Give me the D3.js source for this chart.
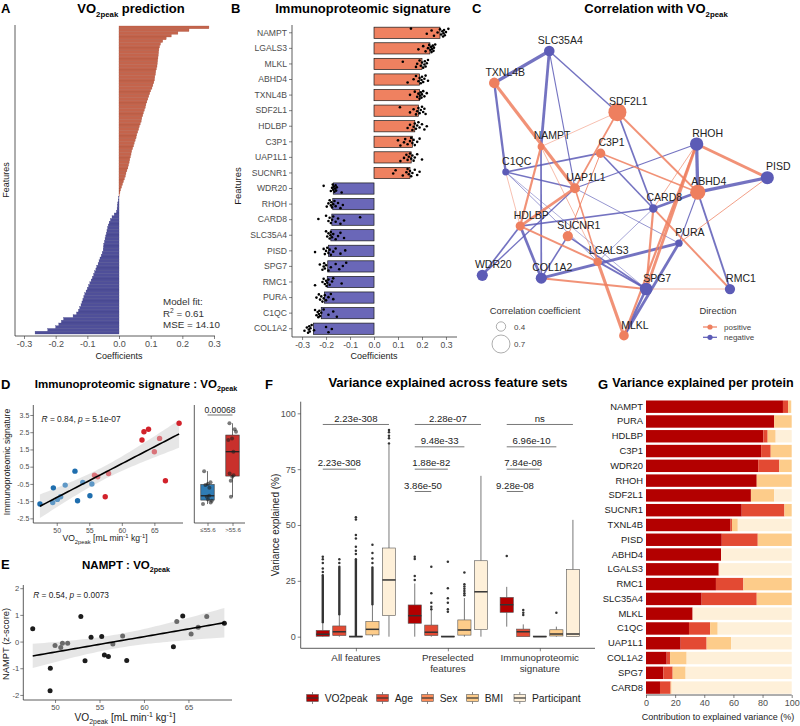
<!DOCTYPE html>
<html>
<head>
<meta charset="utf-8">
<script src="https://cdn.jsdelivr.net/npm/d3@7/dist/d3.min.js"></script>
<style>
  body { margin: 0; background: #fff; }
</style>
</head>
<body>
<svg id="fig" width="800" height="726"></svg>
<script>
'use strict';

var FONT = '"Liberation Sans", Arial, Helvetica, sans-serif';

// ---------- A: model coefficients, sorted (positive block, then negative block)
var aPos = [0.284,0.221,0.186,0.165,0.149,0.138,0.131,0.128,0.126,0.125,0.124,0.123,0.122,0.121,0.12,0.118,
  0.116,0.115,0.113,0.112,0.11,0.107,0.104,0.1,0.097,0.094,0.091,0.088,0.085,0.083,0.08,0.077,0.075,0.072,
  0.07,0.067,0.064,0.062,0.059,0.056,0.054,0.051,0.048,0.046,0.043,0.04,0.038,0.036,0.034,0.032,0.03,0.028,
  0.025,0.022,0.02,0.017,0.014,0.011,0.008,0.005,0.003,0.001];
var aNeg = [-0.001,-0.002,-0.004,-0.005,-0.006,-0.008,-0.015,-0.022,-0.027,-0.031,-0.034,-0.036,-0.038,-0.04,
  -0.042,-0.044,-0.046,-0.048,-0.049,-0.05,-0.053,-0.056,-0.06,-0.063,-0.066,-0.07,-0.073,-0.077,-0.08,-0.084,
  -0.088,-0.092,-0.096,-0.1,-0.104,-0.108,-0.111,-0.114,-0.117,-0.12,-0.124,-0.128,-0.134,-0.145,-0.175,-0.182,
  -0.19,-0.2,-0.225,-0.265];

// ---------- B: signature coefficients and bootstrap estimates
var bProteins = ['NAMPT','LGALS3','MLKL','ABHD4','TXNL4B','SDF2L1','HDLBP','C3P1','UAP1L1','SUCNR1',
  'WDR20','RHOH','CARD8','SLC35A4','PISD','SPG7','RMC1','PURA','C1QC','COL1A2'];
var bCoef = [0.275,0.233,0.2,0.19,0.19,0.185,0.17,0.16,0.155,0.15,
  -0.17,-0.172,-0.176,-0.18,-0.19,-0.193,-0.195,-0.207,-0.22,-0.253];
var bBoot = [
  [0.154,0.22,0.24,0.25,0.265,0.275,0.28,0.285,0.288,0.29,0.292,0.295,0.3,0.31],
  [0.185,0.205,0.215,0.225,0.23,0.235,0.238,0.24,0.242,0.245,0.248,0.25,0.255],
  [0.12,0.175,0.18,0.19,0.195,0.2,0.205,0.21,0.212,0.215,0.22,0.225],
  [0.14,0.165,0.175,0.185,0.19,0.195,0.198,0.2,0.205,0.21,0.215,0.225],
  [0.15,0.17,0.18,0.185,0.19,0.192,0.195,0.198,0.2,0.205,0.21,0.22],
  [0.108,0.15,0.165,0.175,0.18,0.185,0.19,0.195,0.2,0.205,0.21,0.215],
  [0.14,0.15,0.16,0.165,0.17,0.175,0.18,0.185,0.19,0.2,0.21,0.22],
  [0.1,0.11,0.125,0.13,0.14,0.15,0.155,0.16,0.165,0.17,0.18,0.19],
  [0.11,0.125,0.135,0.14,0.145,0.15,0.155,0.16,0.165,0.17,0.18,0.2],
  [0.08,0.09,0.12,0.135,0.14,0.145,0.15,0.155,0.16,0.17,0.18,0.19],
  [-0.21,-0.18,-0.175,-0.172,-0.17,-0.168,-0.165,-0.162,-0.16,-0.158,-0.155,-0.135],
  [-0.197,-0.19,-0.185,-0.18,-0.178,-0.175,-0.17,-0.165,-0.16,-0.15,-0.14,-0.13],
  [-0.232,-0.2,-0.19,-0.185,-0.18,-0.175,-0.17,-0.16,-0.15,-0.14,-0.125,-0.058],
  [-0.2,-0.195,-0.19,-0.185,-0.182,-0.18,-0.175,-0.17,-0.16,-0.15,-0.14,-0.125],
  [-0.246,-0.21,-0.205,-0.2,-0.195,-0.19,-0.185,-0.18,-0.17,-0.16,-0.14,-0.12],
  [-0.226,-0.215,-0.21,-0.208,-0.205,-0.2,-0.19,-0.18,-0.16,-0.145,-0.13,-0.116],
  [-0.246,-0.215,-0.21,-0.205,-0.2,-0.198,-0.195,-0.19,-0.185,-0.175,-0.17,-0.135],
  [-0.24,-0.23,-0.225,-0.22,-0.215,-0.21,-0.205,-0.2,-0.19,-0.18,-0.17],
  [-0.246,-0.24,-0.235,-0.232,-0.23,-0.228,-0.225,-0.22,-0.21,-0.19,-0.17,-0.155],
  [-0.29,-0.28,-0.275,-0.272,-0.27,-0.268,-0.265,-0.26,-0.25,-0.2,-0.19,-0.176]
];

// ---------- C: correlation network (layout coordinates in arbitrary 0-10 units)
var cNames = ['SLC35A4','TXNL4B','SDF2L1','NAMPT','C3P1','RHOH','PISD','C1QC','UAP1L1','ABHD4',
  'CARD8','HDLBP','SUCNR1','PURA','LGALS3','WDR20','COL1A2','SPG7','RMC1','MLKL'];
var cDir = ['negative','positive','positive','positive','positive','negative','negative','negative','positive','positive',
  'negative','positive','positive','negative','positive','negative','negative','negative','negative','positive'];
var cCorr = [0.44,0.44,0.70,0.31,0.40,0.54,0.53,0.31,0.42,0.60,0.37,0.39,0.43,0.33,0.37,0.46,0.46,0.51,0.43,0.41];
var cLayoutX = [2.35,0.42,4.74,2.06,4.15,7.52,10,0.82,3.25,7.56,6.0,1.33,3.0,6.9,4.05,0,2.07,5.75,8.69,4.97];
var cLayoutY = [0,1.12,2.15,3.36,3.59,3.27,4.45,4.25,4.82,4.96,5.53,6.15,6.5,6.75,7.4,7.88,7.98,8.36,8.36,10];
var cEdges = [
  ['TXNL4B','SLC35A4',-0.78],['SLC35A4','NAMPT',-0.7],['SLC35A4','UAP1L1',-0.42],['SLC35A4','SDF2L1',-0.48],
  ['TXNL4B','C1QC',-0.62],['NAMPT','COL1A2',-0.52],['C1QC','C3P1',-0.52],['UAP1L1','RHOH',-0.42],
  ['C1QC','UAP1L1',-0.5],['C3P1','CARD8',-0.5],['SDF2L1','CARD8',-0.52],['RHOH','ABHD4',-0.78],
  ['ABHD4','PISD',-0.78],['ABHD4','CARD8',-0.66],['CARD8','HDLBP',-0.5],['PURA','COL1A2',-0.72],
  ['PURA','ABHD4',-0.42],['PURA','MLKL',-0.7],['SPG7','MLKL',-0.66],['ABHD4','RMC1',-0.55],
  ['HDLBP','COL1A2',-0.68],['HDLBP','WDR20',-0.52],['SUCNR1','COL1A2',-0.5],['LGALS3','SPG7',-0.55],
  ['SUCNR1','SPG7',-0.5],['C1QC','LGALS3',-0.35],['UAP1L1','PURA',-0.36],['WDR20','UAP1L1',-0.46],
  ['CARD8','LGALS3',-0.34],['C1QC','SPG7',-0.33],
  ['TXNL4B','UAP1L1',0.76],['NAMPT','SDF2L1',0.33],['NAMPT','HDLBP',0.6],['NAMPT','LGALS3',0.34],
  ['SDF2L1','UAP1L1',0.52],['SDF2L1','ABHD4',0.55],['C3P1','ABHD4',0.5],['C3P1','SUCNR1',0.4],
  ['UAP1L1','HDLBP',0.68],['UAP1L1','LGALS3',0.5],['LGALS3','MLKL',0.76],['RHOH','PISD',0.7],
  ['RHOH','SPG7',0.7],['RHOH','CARD8',0.36],['RHOH','MLKL',0.6],['PISD','PURA',0.38],
  ['CARD8','SPG7',0.6],['CARD8','RMC1',0.56],['HDLBP','LGALS3',0.56],['COL1A2','SPG7',0.55],
  ['SPG7','RMC1',0.34],['C1QC','HDLBP',0.33]
];

// ---------- D: signature score vs VO2peak
var dVO2 = [47.42,49.38,49.48,50.1,50.6,51.3,52.8,53.2,54.0,55.1,55.4,55.8,56.3,57.45,57.96,63.1,63.4,64.1,65.0,65.8,66.7,68.8];
var dSig = [-1.67,-1.58,-0.73,-1.4,-1.25,-0.57,0.24,-1.48,-0.41,-1.19,-0.51,0.0,-0.09,-1.25,0.1,2.05,2.53,2.67,1.37,2.14,-0.32,3.02];
var dTone = [1,0,1,0,0,0,1,1,0,1,0,0,0,1,0,1,1,1,0,0,1,1];
var dCut = 55.6;
var dGroups = ['\u226455.6', '>55.6'];

// ---------- E: NAMPT vs VO2peak
var eVO2 = [47.49,49.47,49.44,50.0,50.64,50.83,51.42,52.9,53.37,54.05,55.25,55.55,56.0,56.5,57.6,58.06,63.31,63.69,64.36,65.3,66.1,67.06,69.04];
var eNampt = [0.48,-1.0,-1.84,-0.15,-0.22,-0.06,-0.06,0.94,-0.72,0.16,0.19,-0.5,-0.56,-0.09,0.21,-0.71,-0.19,0.75,0.96,0.28,0.54,0.94,0.69];
var eTone = [1,1,1,0,0,0,0,1,1,1,1,1,1,0,0,1,1,0,1,0,0,0,1];

// ---------- F: variance explained per feature set
var fGroups = ['All features', 'Preselected features', 'Immunoproteomic signature'];
var fVars = ['VO2peak', 'Age', 'Sex', 'BMI', 'Participant'];
var fColors = ['#b30000', '#e34a33', '#fc8d59', '#fdcc8a', '#fef0d9'];
// [lower whisker, q1, median, q3, upper whisker]
var fStatsAll = [[0,0.2,1.1,2.8,6.5],[0,0.5,2.2,4.8,10],[0,0,0,0.3,0.5],[0,0.8,3.3,6.8,14.5],[0,9.4,25.4,39.7,85.8]];
var fStatsPre = [[0,6,9.4,14.2,23.8],[0,0.5,2,5.2,12],[0,0,0,0.3,0.3],[0,0.7,3,7.5,17.3],[0,3.2,20.1,34,72]];
var fStatsSig = [[4.5,10.9,14.3,17.6,22.3],[0,0,2.2,3.4,5.5],[0,0,0,0.3,0.3],[0,0.3,1.2,3.1,4.5],[0,0,1.2,30,52.3]];
var fOutAll = [[29,30.5,33,34.7,35.8],[33,34.7],[37,38.5,40.3,44,45.5,52.5,53.5],[33,35,37.5,41.2],[86.5,88.8,90,91.5,92.5]];
var fOutPre = [[25.4,27.2,34.8,35.8],[12.3,13.4,15.2,19.4,31.3],[11.2,12.3,15.2,17.2,21.7,33.6],[18.5,19.5,20.5,21.5,22.5,23.5,28.7],[]];
var fOutSig = [[36.1],[9.7,10.7,11.9],[],[10.7],[]];
// stretches so crowded with outliers that they print as a solid column
var fRunAll = [[6.5,27.5],[10,31.3],[0.5,34.7],[14.5,31],null];
var fRunPre = [null,null,null,null,null];
var fRunSig = [null,null,null,null,null];
// pairwise tests against VO2peak: group, compared variable, bracket height, label
var fTestGroup = [0,0,1,1,1,1,2,2,2,2];
var fTestVar = [4,2,4,3,2,1,4,3,2,1];
var fTestY = [95,75,95,85,75,65,95,85,75,65];
var fTestLabel = ['2.23e-308','2.23e-308','2.28e-07','9.48e-33','1.88e-82','3.86e-50','ns','6.96e-10','7.84e-08','9.28e-08'];

// ---------- G: variance decomposition per protein (%)
var gProteins = ['NAMPT','PURA','HDLBP','C3P1','WDR20','RHOH','SDF2L1','SUCNR1','TXNL4B','PISD',
  'ABHD4','LGALS3','RMC1','SLC35A4','MLKL','C1QC','UAP1L1','COL1A2','SPG7','CARD8'];
var gVO2 = [94,88,80.5,79,77,76,72,65.7,58,52,51.5,49.7,48,38.2,32,29.5,23.8,14.2,11.9,9.6];
var gAge = [3.5,0,3,6.6,14.5,0,0,29.3,1,24.7,0,0.6,18.8,37.8,0,14.5,17.8,2.3,6.4,7.3];
var gSex = [0,0,0,0,0,0,0,0,0,0,0,0,0,0,0,0,0,0,0,0];
var gBMI = [2,12,5.5,14.4,8.5,24,16,5,4,23.3,0,0,33.2,24,0,5.2,16.8,11.4,8.9,0.7];
var gPart = [0.5,0,11,0,0,0,12,0,37,0,48.5,49.7,0,0,68,50.8,41.6,72.1,72.8,82.4];

// ================= helpers
var svg = d3.select('#fig');

function rich(t, parts, size, sc) {
  var cur = 0;
  parts.forEach(function(p) {
    var kind = p[1] || 'n';
    var off = kind === 'sub' ? size * 0.3 : (kind === 'sup' ? -size * 0.38 : 0);
    var ts = t.append('tspan').attr('dy', off - cur).text(p[0]);
    if (kind === 'sub' || kind === 'sup') ts.attr('font-size', size * sc);
    if (kind === 'i') ts.attr('font-style', 'italic');
    cur = off;
  });
}

function label(g, x, y, str, size, opts) {
  opts = opts || {};
  var t = g.append('text').attr('x', x).attr('y', y)
    .attr('font-size', size).attr('font-family', FONT)
    .attr('text-anchor', opts.anchor || 'middle')
    .attr('fill', opts.fill || '#1a1a1a');
  if (opts.bold) t.attr('font-weight', 'bold');
  if (opts.rotate) t.attr('transform', 'rotate(-90,' + x + ',' + y + ')');
  if (typeof str === 'string') t.text(str);
  else rich(t, str, size, opts.sc || 0.68);
  return t;
}

function line(g, x1, y1, x2, y2, col, w) {
  return g.append('line').attr('x1', x1).attr('y1', y1).attr('x2', x2).attr('y2', y2)
    .attr('stroke', col || '#333').attr('stroke-width', w || 0.8);
}

function styleAxis(g, fs) {
  g.attr('font-family', FONT).attr('font-size', fs);
  g.select('.domain').remove();
  g.selectAll('.tick line').attr('stroke', '#333').attr('stroke-width', 0.6);
  g.selectAll('.tick text').attr('fill', '#4d4d4d');
}

function f1(d) { return d.toFixed(1); }

// golden-ratio sequence used as a fixed jitter
function jit(j) { return ((j * 0.618034) % 1) - 0.5; }

function fitLine(xs, ys, x0, x1) {
  var n = xs.length;
  var mx = d3.mean(xs), my = d3.mean(ys);
  var sxx = d3.sum(xs, function(x) { return (x - mx) * (x - mx); });
  var sxy = d3.sum(xs, function(x, i) { return (x - mx) * (ys[i] - my); });
  var b = sxy / sxx, a = my - b * mx;
  var sse = d3.sum(xs, function(x, i) { var r = ys[i] - a - b * x; return r * r; });
  var s = Math.sqrt(sse / (n - 2));
  return d3.range(0, 51).map(function(k) {
    var x = x0 + (x1 - x0) * k / 50;
    var yh = a + b * x;
    var se = s * Math.sqrt(1 / n + (x - mx) * (x - mx) / sxx);
    return { x: x, y: yh, lo: yh - 2.08 * se, hi: yh + 2.08 * se };
  });
}

var VO2TITLE = function(pre, post) { return [[pre + 'VO'], ['2peak', 'sub'], [post || '']]; };
var VO2AXIS = [['VO'], ['2peak', 'sub'], [' [mL min'], ['-1', 'sup'], [' kg'], ['-1', 'sup'], [']']];

// ================= panel letters and titles
label(svg, 1, 13, 'A', 13, { anchor: 'start', bold: true, fill: '#000' });
label(svg, 231, 13, 'B', 13, { anchor: 'start', bold: true, fill: '#000' });
label(svg, 472, 13, 'C', 13, { anchor: 'start', bold: true, fill: '#000' });
label(svg, 1, 389, 'D', 13, { anchor: 'start', bold: true, fill: '#000' });
label(svg, 1, 569, 'E', 13, { anchor: 'start', bold: true, fill: '#000' });
label(svg, 265, 389, 'F', 13, { anchor: 'start', bold: true, fill: '#000' });
label(svg, 598, 389, 'G', 13, { anchor: 'start', bold: true, fill: '#000' });

label(svg, 131, 13, VO2TITLE('', ' prediction'), 13, { bold: true, fill: '#000', sc: 0.6 });
label(svg, 363, 13, 'Immunoproteomic signature', 13, { bold: true, fill: '#000' });
label(svg, 656, 13, VO2TITLE('Correlation with '), 13, { bold: true, fill: '#000', sc: 0.6 });
label(svg, 136, 388, VO2TITLE('Immunoproteomic signature : '), 11.5, { bold: true, fill: '#000', sc: 0.62 });
label(svg, 126, 569, VO2TITLE('NAMPT : '), 11.5, { bold: true, fill: '#000', sc: 0.62 });
label(svg, 448, 387, 'Variance explained across feature sets', 13, { bold: true, fill: '#000' });
label(svg, 703, 387, 'Variance explained per protein', 12.5, { bold: true, fill: '#000' });

// ================= A
var gA = svg.append('g');
var aCoef = aPos.concat(aNeg);
var ax = d3.scaleLinear().domain([-0.3, 0.3]).range([24, 214]);
var ay = d3.scaleBand().domain(d3.range(aCoef.length)).range([26, 334]);
gA.selectAll('rect').data(aCoef).enter().append('rect')
  .attr('x', function(d) { return ax(Math.min(0, d)); })
  .attr('y', function(d, i) { return ay(i); })
  .attr('width', function(d) { return Math.abs(ax(d) - ax(0)); })
  .attr('height', ay.bandwidth())
  .attr('fill', function(d) { return d > 0 ? '#c4644c' : '#4f4f99'; })
  .attr('stroke', function(d) { return d > 0 ? '#a9513d' : '#3d3d80'; })
  .attr('stroke-width', 0.3);
gA.append('g').attr('transform', 'translate(0,336)')
  .call(d3.axisBottom(ax).tickValues([-0.3, -0.2, -0.1, 0, 0.1, 0.2, 0.3]).tickFormat(f1).tickSize(3).tickPadding(2))
  .call(styleAxis, 9);
line(gA, 15, 25, 15, 336);
line(gA, 15, 336, 215, 336);
label(gA, 119, 359, 'Coefficients', 9);
label(gA, 9, 180, 'Features', 9, { rotate: true });
label(gA, 163, 305, 'Model fit:', 9.8, { anchor: 'start', fill: '#333' });
label(gA, 163, 316.5, [['R'], ['2', 'sup'], [' = 0.61']], 9.8, { anchor: 'start', fill: '#333' });
label(gA, 163, 328, 'MSE = 14.10', 9.8, { anchor: 'start', fill: '#333' });

// ================= B
var gB = svg.append('g');
var bx = d3.scaleLinear().domain([-0.342, 0.346]).range([292, 457]);
var by = d3.scaleBand().domain(bProteins).range([25, 336.5]).paddingInner(0.28).paddingOuter(0.14);
gB.selectAll('rect').data(bCoef).enter().append('rect')
  .attr('x', function(d) { return bx(Math.min(0, d)); })
  .attr('y', function(d, i) { return by(bProteins[i]); })
  .attr('width', function(d) { return Math.abs(bx(d) - bx(0)); })
  .attr('height', by.bandwidth())
  .attr('fill', function(d) { return d > 0 ? '#ef8160' : '#6a67b8'; })
  .attr('stroke', '#1a1a1a').attr('stroke-width', 0.7);
bBoot.forEach(function(vals, i) {
  gB.append('g').selectAll('circle').data(vals).enter().append('circle')
    .attr('cx', function(d) { return bx(d); })
    .attr('cy', function(d, j) { return by(bProteins[i]) + by.bandwidth() / 2 + jit(j + i) * by.bandwidth() * 0.75; })
    .attr('r', 1.3).attr('fill', '#000');
});
gB.append('g').attr('transform', 'translate(292,0)')
  .call(d3.axisLeft(by).tickSize(3).tickPadding(2)).call(styleAxis, 8.6);
gB.append('g').attr('transform', 'translate(0,337)')
  .call(d3.axisBottom(bx).tickValues([-0.3, -0.2, -0.1, 0, 0.1, 0.2, 0.3]).tickFormat(f1).tickSize(3).tickPadding(2))
  .call(styleAxis, 8.6);
line(gB, 292, 25, 292, 337);
line(gB, 292, 337, 457, 337);
label(gB, 374, 359, 'Coefficients', 9);
label(gB, 241, 186, 'Features', 9.5, { rotate: true });

// ================= C
var gC = svg.append('g');
var cx = d3.scaleLinear().domain([0, 10]).range([482.3, 767.3]);
var cy = d3.scaleLinear().domain([0, 10]).range([51, 335.7]);
var cr = d3.scaleLinear().domain([0.4, 0.7]).range([4.7, 9]);
var cw = d3.scaleLinear().domain([0.3, 0.8]).range([0.4, 3.4]);
var cCol = { positive: '#ee7f5f', negative: '#5c5bb6' };
var cIdx = {};
cNames.forEach(function(n, i) { cIdx[n] = i; });
gC.selectAll('line.edge').data(cEdges).enter().append('line')
  .attr('class', 'edge')
  .attr('x1', function(d) { return cx(cLayoutX[cIdx[d[0]]]); })
  .attr('y1', function(d) { return cy(cLayoutY[cIdx[d[0]]]); })
  .attr('x2', function(d) { return cx(cLayoutX[cIdx[d[1]]]); })
  .attr('y2', function(d) { return cy(cLayoutY[cIdx[d[1]]]); })
  .attr('stroke', function(d) { return d[2] > 0 ? cCol.positive : cCol.negative; })
  .attr('stroke-width', function(d) { return cw(Math.abs(d[2])); })
  .attr('stroke-opacity', 0.85);
gC.selectAll('circle.node').data(cNames).enter().append('circle')
  .attr('class', 'node')
  .attr('cx', function(d, i) { return cx(cLayoutX[i]); })
  .attr('cy', function(d, i) { return cy(cLayoutY[i]); })
  .attr('r', function(d, i) { return cr(cCorr[i]); })
  .attr('fill', function(d, i) { return cCol[cDir[i]]; });
gC.selectAll('text.node').data(cNames).enter().append('text')
  .attr('class', 'node')
  .attr('x', function(d, i) { return cx(cLayoutX[i]) + 11; })
  .attr('y', function(d, i) { return cy(cLayoutY[i]) - 7.2; })
  .attr('text-anchor', 'middle').attr('font-family', FONT).attr('font-size', 10.5)
  .attr('fill', '#222').text(function(d) { return d; });
// legends
label(gC, 535, 314, 'Correlation coefficient', 9.4, { fill: '#333' });
[0.4, 0.7].forEach(function(v, k) {
  var yy = k === 0 ? 326.5 : 344;
  gC.append('circle').attr('cx', 501).attr('cy', yy).attr('r', cr(v))
    .attr('fill', 'none').attr('stroke', '#777').attr('stroke-width', 0.6);
  label(gC, 514, yy + 3, String(v), 8, { anchor: 'start', fill: '#444' });
});
label(gC, 718, 314, 'Direction', 9.4, { fill: '#333' });
['positive', 'negative'].forEach(function(v, k) {
  var yy = 327 + k * 10.3;
  line(gC, 703, yy, 717, yy, cCol[v], 1.2);
  gC.append('circle').attr('cx', 710).attr('cy', yy).attr('r', 2.6).attr('fill', cCol[v]);
  label(gC, 724, yy + 3, v, 8, { anchor: 'start', fill: '#444' });
});

// ================= D scatter
var gD = svg.append('g');
var dx = d3.scaleLinear().domain([46.4, 69.4]).range([33.3, 183]);
var dy = d3.scaleLinear().domain([-2.77, 4.08]).range([523, 405]);
var dFit = fitLine(dVO2, dSig, d3.min(dVO2), d3.max(dVO2));
gD.append('path').datum(dFit)
  .attr('d', d3.area().x(function(d) { return dx(d.x); }).y0(function(d) { return dy(d.lo); }).y1(function(d) { return dy(d.hi); }))
  .attr('fill', '#d9d9d9').attr('opacity', 0.65);
gD.selectAll('circle').data(dVO2).enter().append('circle')
  .attr('cx', function(d) { return dx(d); })
  .attr('cy', function(d, i) { return dy(dSig[i]); })
  .attr('r', 2.7)
  .attr('fill', function(d, i) {
    var hi = d > dCut;
    if (dTone[i]) return hi ? '#d2222b' : '#1f6eae';
    return hi ? '#d9737a' : '#5f98c6';
  });
gD.append('path').datum(dFit)
  .attr('d', d3.line().x(function(d) { return dx(d.x); }).y(function(d) { return dy(d.y); }))
  .attr('fill', 'none').attr('stroke', '#000').attr('stroke-width', 1.6);
gD.append('g').attr('transform', 'translate(33.3,0)')
  .call(d3.axisLeft(dy).tickValues([-2.5, -1.5, -0.5, 0.5, 1.5, 2.5, 3.5]).tickFormat(f1).tickSize(3).tickPadding(1))
  .call(styleAxis, 7);
gD.append('g').attr('transform', 'translate(0,523)')
  .call(d3.axisBottom(dx).tickValues([50, 55, 60, 65]).tickSize(3).tickPadding(2))
  .call(styleAxis, 7);
line(gD, 33.3, 405, 33.3, 523);
line(gD, 33.3, 523, 183, 523);
label(gD, 41.5, 422, [['R', 'i'], [' = 0.84, '], ['p', 'i'], [' = 5.1e-07']], 8.4, { anchor: 'start', fill: '#222' });
label(gD, 105, 541, VO2AXIS, 8.6, { fill: '#222' });
label(gD, 10, 462, 'Immunoproteomic signature', 8.6, { rotate: true, fill: '#222' });

// ================= D boxes by VO2peak split
var bxD = d3.scalePoint().domain(dGroups).range([195, 245]).padding(0.5);
var dBy = [[], []];
dVO2.forEach(function(v, i) { var k = v > dCut ? 1 : 0; dBy[k].push(dSig[i]); });
dBy.forEach(function(vals, k) {
  var s = vals.slice().sort(d3.ascending);
  var q1 = d3.quantile(s, 0.25), q2 = d3.quantile(s, 0.5), q3 = d3.quantile(s, 0.75);
  var iqr = q3 - q1;
  var lo = d3.min(s.filter(function(v) { return v >= q1 - 1.5 * iqr; }));
  var hi = d3.max(s.filter(function(v) { return v <= q3 + 1.5 * iqr; }));
  var c = bxD(dGroups[k]);
  line(gD, c, dy(lo), c, dy(q1), '#333', 0.7);
  line(gD, c, dy(q3), c, dy(hi), '#333', 0.7);
  gD.append('rect').attr('x', c - 6.7).attr('width', 13.4)
    .attr('y', dy(q3)).attr('height', dy(q1) - dy(q3))
    .attr('fill', k ? '#c9302c' : '#2f7cb5').attr('stroke', '#333').attr('stroke-width', 0.6);
  line(gD, c - 6.7, dy(q2), c + 6.7, dy(q2), '#222', 1.3);
  gD.append('g').selectAll('circle').data(vals).enter().append('circle')
    .attr('cx', function(d, j) { return c + jit(j * 3 + k) * 9; })
    .attr('cy', function(d) { return dy(d); })
    .attr('r', 2).attr('fill', '#222').attr('fill-opacity', 0.6);
});
gD.append('g').attr('transform', 'translate(0,523)')
  .call(d3.axisBottom(bxD).tickSize(3).tickPadding(2)).call(styleAxis, 6.2);
line(gD, 194.3, 405, 194.3, 523);
line(gD, 194.3, 523, 245, 523);
line(gD, bxD(dGroups[0]), 415, bxD(dGroups[1]), 415, '#333', 0.7);
label(gD, (bxD(dGroups[0]) + bxD(dGroups[1])) / 2, 412.5, '0.00068', 8.6, { fill: '#222' });

// ================= E
var gE = svg.append('g');
var ex = d3.scaleLinear().domain([46.43, 69.9]).range([23.3, 232]);
var ey = d3.scaleLinear().domain([-2.19, 2.12]).range([700, 585]);
var eFit = fitLine(eVO2, eNampt, d3.min(eVO2), d3.max(eVO2));
gE.append('path').datum(eFit)
  .attr('d', d3.area().x(function(d) { return ex(d.x); }).y0(function(d) { return ey(d.lo); }).y1(function(d) { return ey(d.hi); }))
  .attr('fill', '#d9d9d9').attr('opacity', 0.65);
gE.selectAll('circle').data(eVO2).enter().append('circle')
  .attr('cx', function(d) { return ex(d); })
  .attr('cy', function(d, i) { return ey(eNampt[i]); })
  .attr('r', 2.5)
  .attr('fill', function(d, i) { return eTone[i] ? '#1c1c1c' : '#6a6a6a'; });
gE.append('path').datum(eFit)
  .attr('d', d3.line().x(function(d) { return ex(d.x); }).y(function(d) { return ey(d.y); }))
  .attr('fill', 'none').attr('stroke', '#000').attr('stroke-width', 1.6);
gE.append('g').attr('transform', 'translate(23.3,0)')
  .call(d3.axisLeft(ey).tickValues([-2, -1, 0, 1, 2]).tickFormat(function(d) { return String(d); }).tickSize(3).tickPadding(1))
  .call(styleAxis, 7.6);
gE.append('g').attr('transform', 'translate(0,700)')
  .call(d3.axisBottom(ex).tickValues([50, 55, 60, 65]).tickSize(3).tickPadding(2))
  .call(styleAxis, 7.6);
line(gE, 23.3, 585, 23.3, 700);
line(gE, 23.3, 700, 232, 700);
label(gE, 33.3, 598, [['R', 'i'], [' = 0.54, '], ['p', 'i'], [' = 0.0073']], 8.3, { anchor: 'start', fill: '#222' });
label(gE, 125, 721, VO2AXIS, 10.2, { fill: '#222' });
label(gE, 9, 644, 'NAMPT (z-score)', 9.4, { rotate: true, fill: '#222' });

// ================= F
var gF = svg.append('g');
var fx = d3.scalePoint().domain(fGroups).range([300.7, 595]).padding(0.6);
var fv = d3.scalePoint().domain(fVars).range([-33.1, 33.1]);
var fy = d3.scaleLinear().domain([-5.2, 105.2]).range([648.3, 401.7]);
var fStats = [fStatsAll, fStatsPre, fStatsSig];
var fOut = [fOutAll, fOutPre, fOutSig];
var fRun = [fRunAll, fRunPre, fRunSig];
fGroups.forEach(function(grp, gi) {
  fVars.forEach(function(vn, vi) {
    var st = fStats[gi][vi];
    var c = fx(grp) + fv(vn);
    var bw = 13.2;
    line(gF, c, fy(st[0]), c, fy(st[1]), '#555', 0.8);
    line(gF, c, fy(st[3]), c, fy(st[4]), '#555', 0.8);
    gF.append('rect').attr('x', c - bw / 2).attr('width', bw)
      .attr('y', fy(st[3])).attr('height', Math.max(0.8, fy(st[1]) - fy(st[3])))
      .attr('fill', fColors[vi]).attr('stroke', '#555').attr('stroke-width', 0.6);
    line(gF, c - bw / 2, fy(st[2]), c + bw / 2, fy(st[2]), '#333', 1.5);
    var run = fRun[gi][vi];
    if (run) {
      line(gF, c, fy(run[0]), c, fy(run[1]), '#333', 2.4).attr('stroke-linecap', 'round');
    }
    gF.append('g').selectAll('circle').data(fOut[gi][vi]).enter().append('circle')
      .attr('cx', c).attr('cy', function(d) { return fy(d); })
      .attr('r', 1.25).attr('fill', '#333');
  });
});
fTestGroup.forEach(function(gi, k) {
  var c0 = fx(fGroups[gi]) + fv(fVars[0]);
  var c1 = fx(fGroups[gi]) + fv(fVars[fTestVar[k]]);
  var yy = fy(fTestY[k]);
  line(gF, c0, yy, c1, yy, '#555', 0.8);
  label(gF, (c0 + c1) / 2, yy - 2.8, fTestLabel[k], 9.6, { fill: '#222' });
});
gF.append('g').attr('transform', 'translate(300.7,0)')
  .call(d3.axisLeft(fy).tickValues([0, 25, 50, 75, 100]).tickSize(3).tickPadding(2))
  .call(styleAxis, 9);
gF.append('g').attr('transform', 'translate(0,648.3)')
  .call(d3.axisBottom(fx).tickSize(3).tickFormat(function() { return ''; }))
  .call(styleAxis, 9);
line(gF, 300.7, 401.7, 300.7, 648.3);
line(gF, 300.7, 648.3, 595, 648.3);
label(gF, fx(fGroups[0]), 660.5, 'All features', 9.8, { fill: '#333' });
label(gF, fx(fGroups[1]), 660.5, 'Preselected', 9.8, { fill: '#333' });
label(gF, fx(fGroups[1]), 671.5, 'features', 9.8, { fill: '#333' });
label(gF, fx(fGroups[2]), 660.5, 'Immunoproteomic', 9.8, { fill: '#333' });
label(gF, fx(fGroups[2]), 671.5, 'signature', 9.8, { fill: '#333' });
label(gF, 279, 525, 'Variance explained (%)', 10, { rotate: true, fill: '#222' });
// legend
var fLegX = [306.7, 376.7, 421.7, 466.7, 514];
fVars.forEach(function(vn, vi) {
  var x0 = fLegX[vi];
  var xc = x0 + 5.8;
  line(gF, xc, 692, xc, 694.5, '#555', 0.7);
  line(gF, xc, 701.5, xc, 704, '#555', 0.7);
  gF.append('rect').attr('x', x0).attr('y', 694.5).attr('width', 11.6).attr('height', 7)
    .attr('fill', fColors[vi]).attr('stroke', '#555').attr('stroke-width', 0.6);
  line(gF, x0, 698, x0 + 11.6, 698, '#333', 1.2);
  label(gF, x0 + 18, 702, vn, 10.3, { anchor: 'start', fill: '#222' });
});

// ================= G
var gG = svg.append('g');
var gx = d3.scaleLinear().domain([0, 100]).range([646, 791.7]);
var gy = d3.scaleBand().domain(gProteins).range([399.3, 695]).paddingInner(0.16).paddingOuter(0.08);
var gRows = gProteins.map(function(p, i) {
  return { protein: p, VO2peak: gVO2[i], Age: gAge[i], Sex: gSex[i], BMI: gBMI[i], Participant: gPart[i] };
});
var gStack = d3.stack().keys(fVars)(gRows);
gStack.forEach(function(layer, li) {
  gG.append('g').selectAll('rect').data(layer).enter().append('rect')
    .attr('x', function(d) { return gx(d[0]); })
    .attr('width', function(d) { return Math.max(0, gx(d[1]) - gx(d[0])); })
    .attr('y', function(d) { return gy(d.data.protein); })
    .attr('height', gy.bandwidth())
    .attr('fill', fColors[li]);
});
gG.append('g').attr('transform', 'translate(646,0)')
  .call(d3.axisLeft(gy).tickSize(0).tickPadding(3)).call(styleAxis, 9.4);
gG.selectAll('.tick text').attr('fill', '#222');
gG.append('g').attr('transform', 'translate(0,695)')
  .call(d3.axisBottom(gx).tickValues([0, 20, 40, 60, 80, 100]).tickSize(3).tickPadding(1.5))
  .call(styleAxis, 9);
line(gG, 646, 695, 791.7, 695);
label(gG, 718, 719.5, 'Contribution to explained variance (%)', 9, { fill: '#222' });
</script>
</body>
</html>
